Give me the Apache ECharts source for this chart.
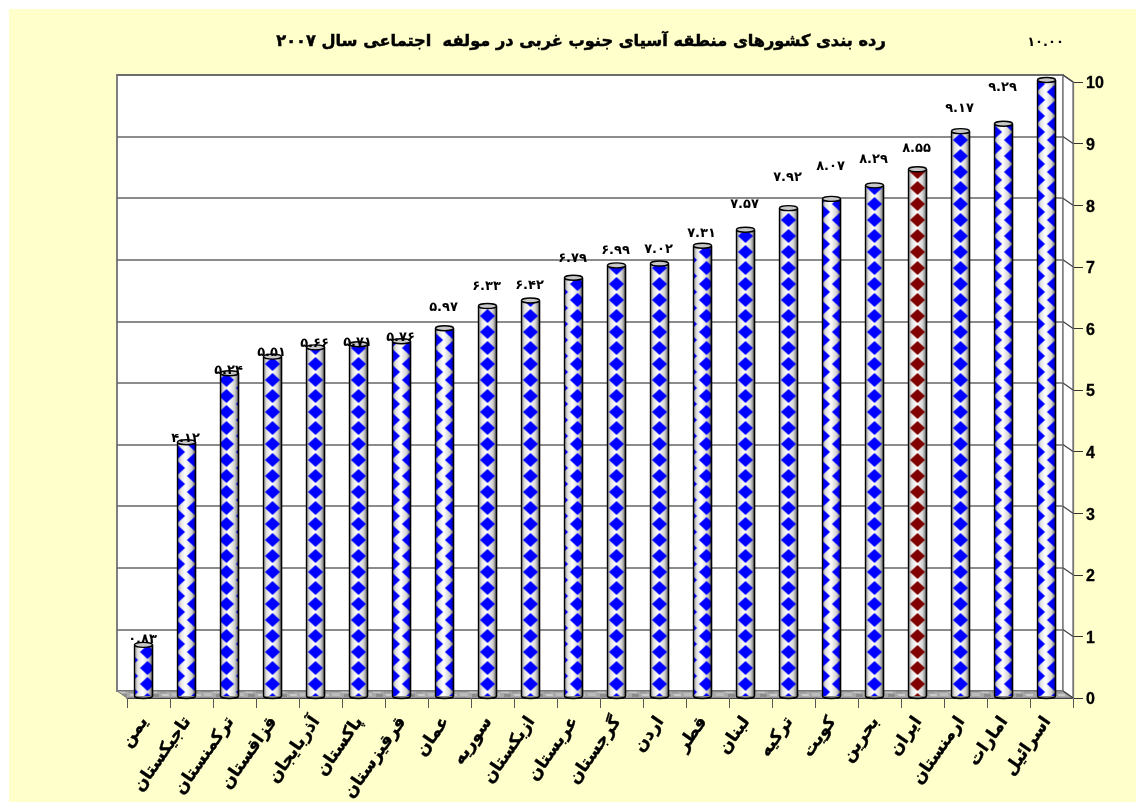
<!DOCTYPE html>
<html>
<head>
<meta charset="utf-8">
<style>
  html, body { margin: 0; background: #fff; }
  #chart { position: absolute; left: 9px; top: 9px; width: 1127px; height: 793px; }
</style>
<script src="https://cdn.jsdelivr.net/npm/echarts@6/dist/echarts.min.js"></script>
</head>
<body>
<div id="chart"></div>
<script>
const countries = ['یمن', 'تاجیکستان', 'ترکمنستان', 'قزاقستان', 'آذربایجان', 'پاکستان', 'قرقیزستان', 'عمان', 'سوریه', 'ازبکستان', 'عربستان', 'گرجستان', 'اردن', 'قطر', 'لبنان', 'ترکیه', 'کویت', 'بحرین', 'ایران', 'ارمنستان', 'امارات', 'اسرائیل']
const scores = [0.83, 4.12, 5.24, 5.51, 5.66, 5.71, 5.76, 5.97, 6.33, 6.42, 6.79, 6.99, 7.02, 7.31, 7.57, 7.92, 8.07, 8.29, 8.55, 9.17, 9.29, 10.00]
const yTicks = [0, 1, 2, 3, 4, 5, 6, 7, 8, 9, 10]
const titleText = 'رده بندی کشورهای منطقه آسیای جنوب غربی در مولفه  اجتماعی سال ۲۰۰۷'
const highlighted = 'ایران'

// layout only: how far each value label floats above its bar, and the diamond phase of each bar
const labelLift = [5, 4, 3, 4, 4, 2, 4, 21, 19, 15, 19, 15, 14, 12, 25, 31, 32, 26, 21, 23, 36, 37]
const patternPhase = [4, 8, -3, 0, 0, 0, 8, 8, 0, 0, 4, 0, 0, 4, 0, 0, 8, 0, 0, 0, 8, 8]

const depthX = 10
const depthY = 7
const offsetX = 5 // bars stand in the middle of the floor
const offsetY = 2

function toPersian (text) {
  return text.replace(/[0-9]/g, d => '۰۱۲۳۴۵۶۷۸۹'[d])
}

// diamond tile used on the cylinders
function diamondTile (color) {
  let c = document.createElement('canvas')
  c.width = 34
  c.height = 16
  let ctx = c.getContext('2d')
  ctx.fillStyle = color
  let centers = [[0, 0], [34, 0], [0, 16], [34, 16], [17, 8]]
  centers.forEach(p => {
    ctx.beginPath()
    ctx.moveTo(p[0] - 7.5, p[1])
    ctx.lineTo(p[0], p[1] - 7)
    ctx.lineTo(p[0] + 7.5, p[1])
    ctx.lineTo(p[0], p[1] + 7)
    ctx.closePath()
    ctx.fill()
  })
  return c
}

// mottled gray for the floor
function floorTile () {
  let c = document.createElement('canvas')
  c.width = 32
  c.height = 8
  let ctx = c.getContext('2d')
  ctx.fillStyle = '#a9a9a9'
  ctx.fillRect(0, 0, 32, 8)
  let patches = [[0, 0, 9, 3, '#8f8f8f'], [12, 1, 8, 3, '#c4c4c4'], [23, 0, 6, 4, '#9a9a9a'], [3, 4, 8, 3, '#bcbcbc'], [15, 5, 7, 3, '#8c8c8c'], [25, 5, 7, 2, '#c9c9c9']]
  patches.forEach(p => {
    ctx.fillStyle = p[4]
    ctx.fillRect(p[0], p[1], p[2], p[3])
  })
  return c
}

const blueTile = diamondTile('#0000ff')
const redTile = diamondTile('#800000')
const floorImage = floorTile()

const WALL = '#808080'

function renderFrame (params, api) {
  let cs = params.coordSys
  let y = api.coord([0, api.value(1)])[1]
  let right = cs.x + cs.width
  let children = []
  if (api.value(1) === 0) {
    let top = cs.y
    let bottom = cs.y + cs.height
    // side wall
    children.push({
      type: 'polygon',
      shape: { points: [[right - depthX, top - depthY], [right, top], [right, bottom], [right - depthX, bottom - depthY]] },
      style: { fill: '#ffffff', stroke: WALL, lineWidth: 1.5 }
    })
    // floor
    children.push({
      type: 'polygon',
      shape: { points: [[cs.x - depthX, bottom - depthY], [right - depthX, bottom - depthY], [right, bottom], [cs.x, bottom]] },
      style: { fill: { image: floorImage, repeat: 'repeat' }, stroke: '#808080', lineWidth: 1 }
    })
  }
  children.push({
    type: 'line',
    shape: { x1: right - depthX, y1: y - depthY, x2: right, y2: y },
    style: { stroke: '#404040', lineWidth: 1.2 }
  })
  return { type: 'group', children: children }
}

function renderBar (params, api) {
  let i = api.value(0)
  let score = api.value(1)
  let top = api.coord([i, score])
  let base = api.coord([i, 0])
  let width = 18
  let cx = top[0] - offsetX
  let x = cx - width / 2
  let yTop = top[1] - offsetY
  let yBase = base[1] - offsetY
  let tile = countries[i] === highlighted ? redTile : blueTile
  let body = { x: x, y: yTop, width: width, height: yBase - yTop }
  let sideGradient = {
    type: 'linear', x: 0, y: 0, x2: 1, y2: 0,
    colorStops: [
      { offset: 0, color: '#b0b0b0' },
      { offset: 0.2, color: '#e4e4e4' },
      { offset: 0.45, color: '#ffffff' },
      { offset: 0.75, color: '#d8d8d8' },
      { offset: 1, color: '#9a9a9a' }
    ]
  }
  let edgeShade = {
    type: 'linear', x: 0, y: 0, x2: 1, y2: 0,
    colorStops: [
      { offset: 0, color: 'rgba(0,0,0,0.2)' },
      { offset: 0.15, color: 'rgba(0,0,0,0)' },
      { offset: 0.8, color: 'rgba(0,0,0,0)' },
      { offset: 1, color: 'rgba(0,0,0,0.3)' }
    ]
  }
  return {
    type: 'group',
    children: [
      { type: 'ellipse', shape: { cx: cx, cy: yBase, rx: width / 2, ry: 2.5 }, style: { fill: '#888', stroke: '#000', lineWidth: 1.4 } },
      { type: 'rect', shape: body, style: { fill: sideGradient } },
      { type: 'rect', shape: body, style: { fill: { image: tile, repeat: 'repeat', x: cx + patternPhase[i], y: 3 } } },
      { type: 'rect', shape: body, style: { fill: edgeShade } },
      { type: 'line', shape: { x1: x, y1: yTop, x2: x, y2: yBase }, style: { stroke: '#000', lineWidth: 1.4 } },
      { type: 'line', shape: { x1: x + width, y1: yTop, x2: x + width, y2: yBase }, style: { stroke: '#000', lineWidth: 1.6 } },
      { type: 'ellipse', shape: { cx: cx, cy: yTop, rx: width / 2, ry: 2.5 }, style: { fill: '#c8c8c8', stroke: '#000', lineWidth: 1.4 } },
      {
        type: 'text',
        style: {
          x: cx - 1,
          y: yTop - labelLift[i],
          text: toPersian(score.toFixed(2)),
          fill: '#000',
          font: 'bold 13px "DejaVu Sans"',
          align: 'center',
          verticalAlign: 'middle'
        }
      }
    ]
  }
}

let option = {
  animation: false,
  backgroundColor: '#ffffcc',
  title: {
    text: titleText,
    left: 567,
    top: 20,
    textAlign: 'center',
    textStyle: {
      fontFamily: 'DejaVu Sans',
      fontWeight: 'bold',
      fontSize: 16.2,
      color: '#000',
      textBorderColor: '#000',
      textBorderWidth: 0.5
    }
  },
  // back wall and front plane share the same scale, the back one is shifted by the depth
  grid: [
    { left: 108, right: 73, top: 66, bottom: 111, show: true, backgroundColor: '#ffffff', borderColor: WALL, borderWidth: 2, outerBoundsMode: 'none' },
    { left: 118, right: 63, top: 73, bottom: 104, outerBoundsMode: 'none' }
  ],
  xAxis: [
    { gridIndex: 0, type: 'category', data: countries, show: false },
    {
      gridIndex: 1,
      type: 'category',
      data: countries,
      axisLine: { show: true, lineStyle: { color: '#000', width: 1.2 } },
      axisTick: { show: true, length: 10, lineStyle: { color: '#555', width: 1 } },
      axisLabel: {
        interval: 0,
        rotate: 55,
        margin: 15,
        padding: [0, 7, 0, 0],
        color: '#000',
        fontFamily: 'DejaVu Sans',
        fontWeight: 'bold',
        fontSize: 17,
        textBorderColor: '#000',
        textBorderWidth: 0.4
      }
    }
  ],
  yAxis: [
    {
      gridIndex: 0,
      type: 'value',
      min: 0,
      max: 10,
      interval: 1,
      axisLine: { show: false },
      axisTick: { show: false },
      axisLabel: { show: false },
      splitLine: { show: true, lineStyle: { color: '#666666', width: 1.5 } }
    },
    {
      gridIndex: 1,
      type: 'value',
      position: 'right',
      min: 0,
      max: 10,
      interval: 1,
      axisLine: { show: true, lineStyle: { color: '#555', width: 1.2 } },
      axisTick: { show: true, length: 10, lineStyle: { color: '#333', width: 1 } },
      axisLabel: {
        margin: 13,
        formatter: '{tick|{value}}',
        rich: {
          tick: {
            padding: [4, 0, 0, 0],
            color: '#000',
            fontFamily: 'Liberation Sans',
            fontWeight: 'bold',
            fontSize: 16,
            textBorderColor: '#000',
            textBorderWidth: 0.3
          }
        },
        customValues: yTicks
      },
      splitLine: { show: false }
    }
  ],
  series: [
    {
      type: 'custom',
      name: 'frame',
      xAxisIndex: 1,
      yAxisIndex: 1,
      silent: true,
      clip: false,
      z: 3,
      renderItem: renderFrame,
      encode: { x: 0, y: 1 },
      data: yTicks.map(t => [0, t])
    },
    {
      type: 'custom',
      name: 'score',
      xAxisIndex: 1,
      yAxisIndex: 1,
      silent: true,
      clip: false,
      z: 5,
      renderItem: renderBar,
      encode: { x: 0, y: 1 },
      data: scores.map((v, i) => [i, v])
    }
  ]
}

let chart = echarts.init(document.getElementById('chart'))
chart.setOption(option)
window.addEventListener('resize', () => {
  chart.resize()
})
</script>
</body>
</html>
